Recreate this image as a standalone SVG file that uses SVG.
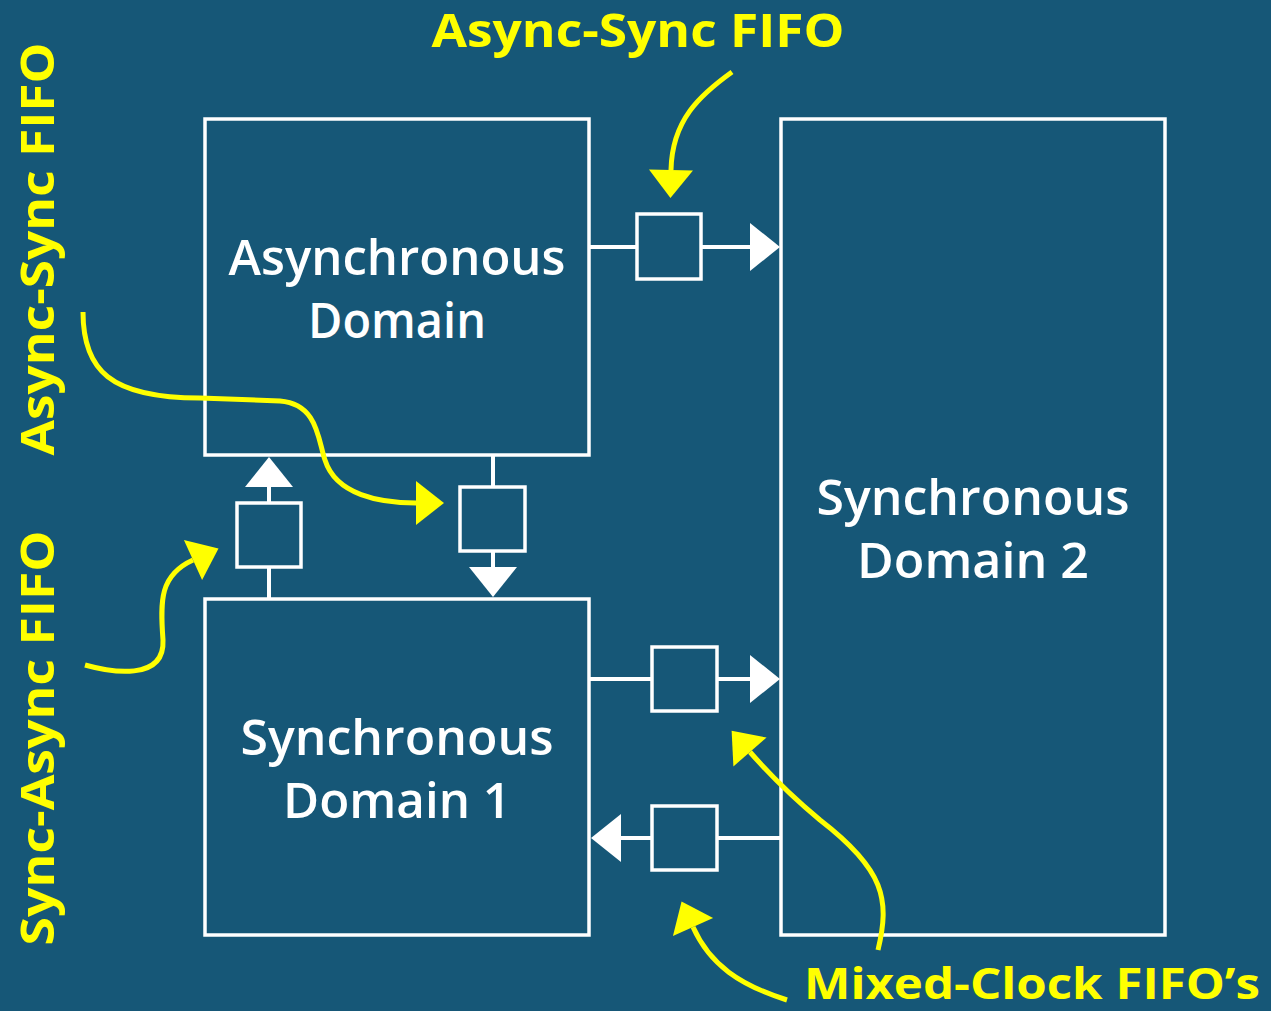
<svg xmlns="http://www.w3.org/2000/svg" width="1271" height="1011" viewBox="0 0 1271 1011">
<style>
.box{fill:none;stroke:#fff;stroke-width:3.5}
.fifo{fill:none;stroke:#fff;stroke-width:3.5}
.wire{fill:none;stroke:#fff;stroke-width:4}
.call{fill:none;stroke:#ffff00;stroke-width:5}
.wt{font-family:"Open Sans","DejaVu Sans",sans-serif;font-weight:600;font-size:48px;fill:#fff;text-anchor:middle}
.yt{font-family:"Open Sans","DejaVu Sans",sans-serif;font-weight:700;font-size:46px;fill:#ffff00;text-anchor:middle}
</style>
<defs>
<marker id="wa" markerUnits="userSpaceOnUse" markerWidth="32" markerHeight="48" refX="0" refY="24" orient="auto" overflow="visible">
<path d="M0,0 L30,24 L0,48 Z" fill="#fff"/>
</marker>
<marker id="ya" markerUnits="userSpaceOnUse" markerWidth="30" markerHeight="46" refX="0" refY="22" orient="auto" overflow="visible">
<path d="M0,0 L28,22 L0,44 Z" fill="#ffff00"/>
</marker>
</defs>
<rect width="1271" height="1011" fill="#165777"/>
<g id="connectors">
<path class="wire" d="M589,247 H637"/>
<path class="wire" d="M701,247 H750" marker-end="url(#wa)"/>
<path class="wire" d="M269,599 V567"/>
<path class="wire" d="M269,503 V487" marker-end="url(#wa)"/>
<path class="wire" d="M493,455 V487"/>
<path class="wire" d="M493,551 V567" marker-end="url(#wa)"/>
<path class="wire" d="M589,679 H652"/>
<path class="wire" d="M717,679 H750" marker-end="url(#wa)"/>
<path class="wire" d="M781,838 H717"/>
<path class="wire" d="M652,838 H621" marker-end="url(#wa)"/>
</g>
<g id="async-domain">
<rect class="box" x="205" y="119" width="384" height="336"/>
<text class="wt" x="397" y="275" textLength="337" lengthAdjust="spacingAndGlyphs">Asynchronous</text>
<text class="wt" x="397" y="338" textLength="178" lengthAdjust="spacingAndGlyphs">Domain</text>
</g>
<g id="sync-domain-1">
<rect class="box" x="205" y="599" width="384" height="336"/>
<text class="wt" x="397" y="755" textLength="313" lengthAdjust="spacingAndGlyphs">Synchronous</text>
<text class="wt" x="397" y="818" textLength="228" lengthAdjust="spacingAndGlyphs">Domain 1</text>
</g>
<g id="sync-domain-2">
<rect class="box" x="781" y="119" width="384" height="816"/>
<text class="wt" x="973" y="515" textLength="313" lengthAdjust="spacingAndGlyphs">Synchronous</text>
<text class="wt" x="973" y="578" textLength="232" lengthAdjust="spacingAndGlyphs">Domain 2</text>
</g>
<g id="fifo-top"><rect class="fifo" x="637" y="214" width="64" height="65"/></g>
<g id="fifo-left-up"><rect class="fifo" x="237" y="503" width="64" height="64"/></g>
<g id="fifo-left-down"><rect class="fifo" x="460" y="487" width="65" height="64"/></g>
<g id="fifo-mid-right"><rect class="fifo" x="652" y="647" width="65" height="64"/></g>
<g id="fifo-mid-left"><rect class="fifo" x="652" y="806" width="65" height="64"/></g>
<g id="callouts">
<path class="call" d="M732,72 C700,95 672,120 671,170" marker-end="url(#ya)"/>
<path class="call" d="M83,312 C83,370 110,398 200,398 L280,401 C318,404 318,440 325,460 C336,495 380,503 416,503" marker-end="url(#ya)"/>
<path class="call" d="M85,665 C110,672 165,682 163,640 C160,600 160,575 193,560" marker-end="url(#ya)"/>
<path class="call" d="M878,950 C890,900 885,870 820,820 C790,795 770,775 750,752" marker-end="url(#ya)"/>
<path class="call" d="M787,1000 C740,985 710,965 693,927" marker-end="url(#ya)"/>
</g>
<g id="labels">
<text class="yt" x="638" y="47" textLength="413" lengthAdjust="spacingAndGlyphs">Async-Sync FIFO</text>
<text class="yt" transform="translate(54,249) rotate(-90)" x="0" y="0" textLength="413" lengthAdjust="spacingAndGlyphs">Async-Sync FIFO</text>
<text class="yt" transform="translate(54,738) rotate(-90)" x="0" y="0" textLength="415" lengthAdjust="spacingAndGlyphs">Sync-Async FIFO</text>
<text class="yt" x="1032" y="999" style="font-size:43px" textLength="456" lengthAdjust="spacingAndGlyphs">Mixed-Clock FIFO’s</text>
</g>
</svg>
